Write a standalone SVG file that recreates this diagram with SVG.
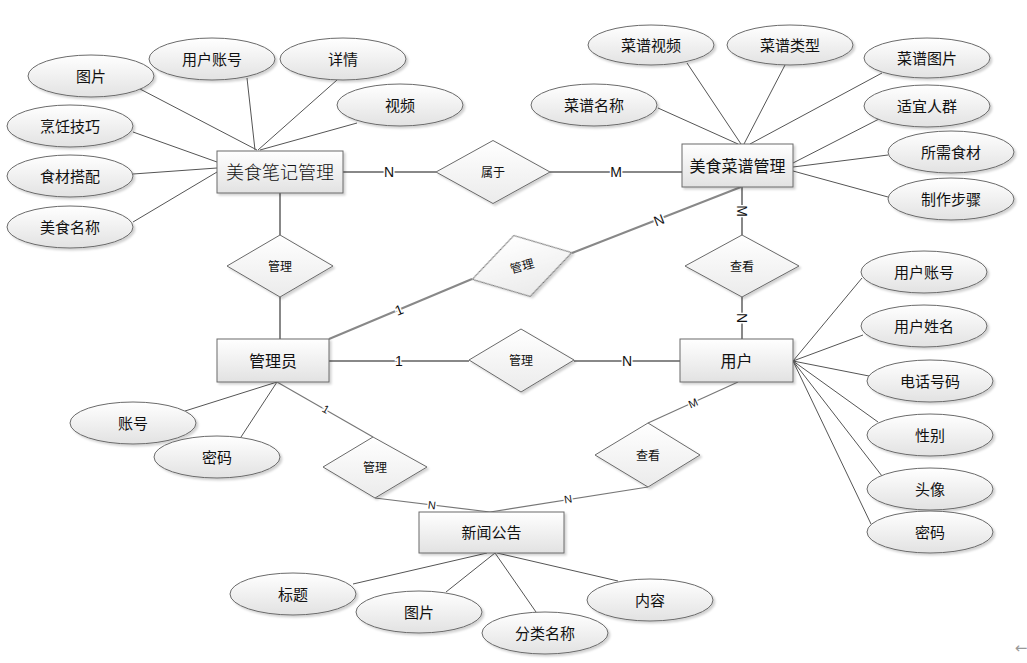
<svg xmlns="http://www.w3.org/2000/svg" width="1027" height="663" viewBox="0 0 1027 663">
<defs>
<linearGradient id="g" x1="0" y1="0" x2="0" y2="1">
<stop offset="0" stop-color="#ffffff"/>
<stop offset="1" stop-color="#e2e2e2"/>
</linearGradient>
<linearGradient id="gd" x1="0" y1="0" x2="0" y2="1">
<stop offset="0" stop-color="#ffffff"/>
<stop offset="1" stop-color="#ebebeb"/>
</linearGradient>
<filter id="sh" x="-10%" y="-10%" width="130%" height="140%">
<feDropShadow dx="2" dy="2" stdDeviation="1.2" flood-color="#000" flood-opacity="0.18"/>
</filter>
</defs>
<style>
.e{fill:url(#g);stroke:#6a6a6a;stroke-width:1;filter:url(#sh)}
.r{fill:url(#g);stroke:#6a6a6a;stroke-width:1;filter:url(#sh)}
.d{fill:url(#gd);stroke:#6a6a6a;stroke-width:1;filter:url(#sh)}
.t{font-family:"Noto Sans CJK SC","Liberation Sans",sans-serif;font-size:15px;fill:#111;text-anchor:middle;dominant-baseline:central}
.tr{font-size:16px}
.tb{font-size:18px;font-weight:300}
.td{font-size:12px}
.a{stroke:#555;stroke-width:1;fill:none}
.rl{stroke:#888;stroke-width:2;fill:none}
.rt{stroke:#777;stroke-width:1.2;fill:none}
.lb{font-family:"Liberation Sans",Arial,sans-serif;font-size:14px;fill:#111;text-anchor:middle;dominant-baseline:central;stroke:#fff;stroke-width:3;paint-order:stroke}
.ls{font-size:11px}
</style>
<rect width="1027" height="663" fill="#fff"/>
<g id="connectors">
<line class="a" x1="140" y1="89" x2="257" y2="150"/>
<line class="a" x1="247" y1="78" x2="255" y2="150"/>
<line class="a" x1="337" y1="80" x2="258" y2="150"/>
<line class="a" x1="357" y1="123" x2="260" y2="150"/>
<line class="a" x1="133" y1="132" x2="217" y2="162"/>
<line class="a" x1="133" y1="174" x2="217" y2="168"/>
<line class="a" x1="133" y1="222" x2="217" y2="172"/>
<line class="a" x1="687" y1="63" x2="741" y2="144"/>
<line class="a" x1="785" y1="65" x2="744" y2="144"/>
<line class="a" x1="882" y1="73" x2="750" y2="144"/>
<line class="a" x1="658" y1="108" x2="738" y2="144"/>
<line class="a" x1="879" y1="119" x2="793" y2="163"/>
<line class="a" x1="888" y1="155" x2="793" y2="167"/>
<line class="a" x1="888" y1="197" x2="793" y2="171"/>
<line class="a" x1="793" y1="361" x2="862" y2="278"/>
<line class="a" x1="793" y1="361" x2="863" y2="335"/>
<line class="a" x1="793" y1="361" x2="869" y2="376"/>
<line class="a" x1="793" y1="361" x2="878" y2="422"/>
<line class="a" x1="793" y1="361" x2="882" y2="476"/>
<line class="a" x1="793" y1="361" x2="871" y2="524"/>
<line class="a" x1="277" y1="382" x2="185" y2="411"/>
<line class="a" x1="277" y1="382" x2="241" y2="437"/>
<line class="a" x1="487" y1="553" x2="353" y2="584"/>
<line class="a" x1="495" y1="553" x2="446" y2="592"/>
<line class="a" x1="495" y1="553" x2="536" y2="612"/>
<line class="a" x1="497" y1="553" x2="618" y2="581"/>
<line class="rl" x1="343" y1="172" x2="436" y2="172"/>
<line class="rl" x1="550" y1="172" x2="682" y2="172"/>
<line class="rl" x1="280" y1="193" x2="280" y2="235"/>
<line class="rl" x1="280" y1="297" x2="280" y2="339"/>
<line class="rl" x1="329" y1="339" x2="472" y2="279"/>
<line class="rl" x1="572" y1="253" x2="741" y2="187"/>
<line class="rl" x1="329" y1="361" x2="469" y2="361"/>
<line class="rl" x1="574" y1="361" x2="680" y2="361"/>
<line class="rl" x1="742" y1="187" x2="742" y2="235"/>
<line class="rl" x1="742" y1="297" x2="742" y2="339"/>
<line class="rt" x1="277" y1="382" x2="373" y2="437"/>
<line class="rt" x1="375" y1="498" x2="490" y2="512"/>
<line class="rt" x1="648" y1="487" x2="490" y2="512"/>
<line class="rt" x1="648" y1="423" x2="738" y2="382"/>
<text class="lb" x="389" y="172">N</text>
<text class="lb" x="616" y="172">M</text>
<text class="lb" transform="translate(399,310) rotate(-22)">1</text>
<text class="lb" transform="translate(659,220) rotate(-21)">N</text>
<text class="lb" x="399" y="361">1</text>
<text class="lb" x="627" y="361">N</text>
<text class="lb" transform="translate(742,211) rotate(90)">M</text>
<text class="lb" transform="translate(742,318) rotate(90)">N</text>
<text class="lb ls" transform="translate(326,409) rotate(30)">1</text>
<text class="lb ls" transform="translate(432,505) rotate(7)">N</text>
<text class="lb ls" transform="translate(568,499) rotate(-9)">N</text>
<text class="lb ls" transform="translate(693,403) rotate(-24)">M</text>
</g>
<g id="note">
<rect class="r" x="217" y="151" width="126" height="42"/>
<text class="t tb" x="280" y="171">美食笔记管理</text>
</g>
<g id="recipe">
<rect class="r" x="682" y="144" width="111" height="43"/>
<text class="t tr" x="737.5" y="164.5">美食菜谱管理</text>
</g>
<g id="admin">
<rect class="r" x="217" y="339" width="112" height="43"/>
<text class="t tr" x="273" y="359.5">管理员</text>
</g>
<g id="user">
<rect class="r" x="680" y="339" width="113" height="43"/>
<text class="t tr" x="736.5" y="359.5">用户</text>
</g>
<g id="news">
<rect class="r" x="419" y="512" width="145" height="41"/>
<text class="t" x="491.5" y="531.5">新闻公告</text>
</g>
<g id="rel-belong">
<polygon class="d" points="436,172 493,140.5 550,172 493,203.5"/>
<text class="t td" x="493" y="171">属于</text>
</g>
<g id="rel-manage-note">
<polygon class="d" points="227,266 280,235 333,266 280,297"/>
<text class="t td" x="280" y="265">管理</text>
</g>
<g id="rel-manage-recipe" transform="translate(522,266) rotate(-15)">
<polygon class="d" points="-51.5,0 0,-31.5 51.5,0 0,31.5"/>
<text class="t td" x="0" y="-1" fill="#444">管理</text>
</g>
<g id="rel-manage-user">
<polygon class="d" points="469,360 521,329 574,360 521,392"/>
<text class="t td" x="521" y="359">管理</text>
</g>
<g id="rel-view-recipe">
<polygon class="d" points="685,266 742,235 799,266 742,297"/>
<text class="t td" x="742" y="265">查看</text>
</g>
<g id="rel-manage-news">
<polygon class="d" points="323,467 373,437 427,467 375,498"/>
<text class="t td" x="375" y="466">管理</text>
</g>
<g id="rel-view-news">
<polygon class="d" points="595,455 648,423 700,455 648,487"/>
<text class="t td" x="648" y="454">查看</text>
</g>
<g id="attr-n1"><ellipse class="e" cx="91" cy="76" rx="63" ry="21"/><text class="t" x="91" y="75">图片</text></g>
<g id="attr-n2"><ellipse class="e" cx="212" cy="59" rx="63" ry="21"/><text class="t" x="212" y="58">用户账号</text></g>
<g id="attr-n3"><ellipse class="e" cx="343" cy="59" rx="63" ry="21"/><text class="t" x="343" y="58">详情</text></g>
<g id="attr-n4"><ellipse class="e" cx="400" cy="105" rx="63" ry="21"/><text class="t" x="400" y="104">视频</text></g>
<g id="attr-n5"><ellipse class="e" cx="70" cy="126" rx="63" ry="21"/><text class="t" x="70" y="125">烹饪技巧</text></g>
<g id="attr-n6"><ellipse class="e" cx="70" cy="176" rx="63" ry="21"/><text class="t" x="70" y="175">食材搭配</text></g>
<g id="attr-n7"><ellipse class="e" cx="70" cy="227" rx="63" ry="21"/><text class="t" x="70" y="226">美食名称</text></g>
<g id="attr-r1"><ellipse class="e" cx="651" cy="45" rx="63" ry="20"/><text class="t" x="651" y="44">菜谱视频</text></g>
<g id="attr-r2"><ellipse class="e" cx="790" cy="45" rx="63" ry="20"/><text class="t" x="790" y="44">菜谱类型</text></g>
<g id="attr-r3"><ellipse class="e" cx="927" cy="58" rx="63" ry="20"/><text class="t" x="927" y="57">菜谱图片</text></g>
<g id="attr-r4"><ellipse class="e" cx="594" cy="105" rx="63" ry="21"/><text class="t" x="594" y="104">菜谱名称</text></g>
<g id="attr-r5"><ellipse class="e" cx="927" cy="106" rx="63" ry="21"/><text class="t" x="927" y="105">适宜人群</text></g>
<g id="attr-r6"><ellipse class="e" cx="951" cy="152" rx="63" ry="21"/><text class="t" x="951" y="151">所需食材</text></g>
<g id="attr-r7"><ellipse class="e" cx="951" cy="199" rx="63" ry="21"/><text class="t" x="951" y="198">制作步骤</text></g>
<g id="attr-u1"><ellipse class="e" cx="924" cy="272" rx="63" ry="21"/><text class="t" x="924" y="271">用户账号</text></g>
<g id="attr-u2"><ellipse class="e" cx="924" cy="326" rx="63" ry="21"/><text class="t" x="924" y="325">用户姓名</text></g>
<g id="attr-u3"><ellipse class="e" cx="930" cy="381" rx="63" ry="21"/><text class="t" x="930" y="380">电话号码</text></g>
<g id="attr-u4"><ellipse class="e" cx="930" cy="435" rx="63" ry="21"/><text class="t" x="930" y="434">性别</text></g>
<g id="attr-u5"><ellipse class="e" cx="930" cy="489" rx="63" ry="21"/><text class="t" x="930" y="488">头像</text></g>
<g id="attr-u6"><ellipse class="e" cx="930" cy="532" rx="63" ry="21"/><text class="t" x="930" y="531">密码</text></g>
<g id="attr-a1"><ellipse class="e" cx="133" cy="423" rx="63" ry="21"/><text class="t" x="133" y="422">账号</text></g>
<g id="attr-a2"><ellipse class="e" cx="217" cy="457" rx="63" ry="21"/><text class="t" x="217" y="456">密码</text></g>
<g id="attr-w1"><ellipse class="e" cx="293" cy="594" rx="63" ry="21"/><text class="t" x="293" y="593">标题</text></g>
<g id="attr-w2"><ellipse class="e" cx="419" cy="612" rx="63" ry="21"/><text class="t" x="419" y="611">图片</text></g>
<g id="attr-w3"><ellipse class="e" cx="545" cy="633" rx="63" ry="21"/><text class="t" x="545" y="632">分类名称</text></g>
<g id="attr-w4"><ellipse class="e" cx="650" cy="600" rx="63" ry="21"/><text class="t" x="650" y="599">内容</text></g>
<text x="1021" y="648" font-family="DejaVu Sans,sans-serif" font-size="15" fill="#999" text-anchor="middle" dominant-baseline="central">←</text>
</svg>
